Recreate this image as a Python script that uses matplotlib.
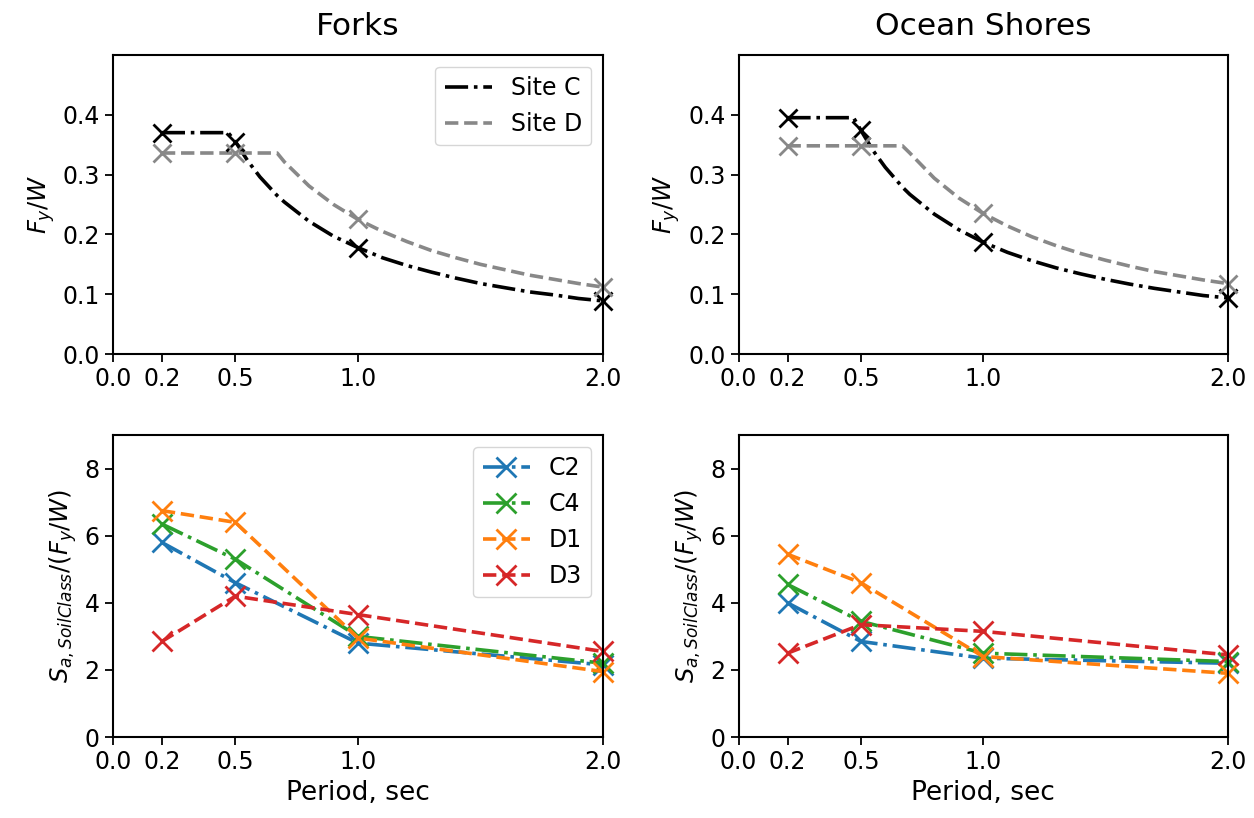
import matplotlib
matplotlib.use("Agg")
import matplotlib.pyplot as plt

# ---------------- data ----------------
sites = ["Forks", "Ocean Shores"]

# design spectrum curves (top row)
curve_period = [0.2, 0.3, 0.4, 0.47, 0.5, 0.55, 0.6, 0.67, 0.7, 0.8, 0.9, 1.0,
                1.1, 1.2, 1.3, 1.4, 1.5, 1.6, 1.7, 1.8, 1.9, 2.0]
forks_site_c = [0.370, 0.370, 0.370, 0.370, 0.355, 0.323, 0.296, 0.265, 0.254, 0.222, 0.197, 0.178,
                0.161, 0.148, 0.137, 0.127, 0.118, 0.111, 0.104, 0.099, 0.093, 0.089]
forks_site_d = [0.336, 0.336, 0.336, 0.336, 0.336, 0.336, 0.336, 0.336, 0.321, 0.281, 0.250, 0.225,
                0.205, 0.188, 0.173, 0.161, 0.150, 0.141, 0.132, 0.125, 0.118, 0.112]
ocean_site_c = [0.395, 0.395, 0.395, 0.395, 0.374, 0.340, 0.312, 0.279, 0.267, 0.234, 0.208, 0.187,
                0.170, 0.156, 0.144, 0.134, 0.125, 0.117, 0.110, 0.104, 0.098, 0.094]
ocean_site_d = [0.348, 0.348, 0.348, 0.348, 0.348, 0.348, 0.348, 0.348, 0.336, 0.294, 0.261, 0.235,
                0.214, 0.196, 0.181, 0.168, 0.157, 0.147, 0.138, 0.131, 0.124, 0.118]

# building periods (markers)
periods = [0.2, 0.5, 1.0, 2.0]
forks_mark_c = [0.370, 0.355, 0.178, 0.089]
forks_mark_d = [0.336, 0.336, 0.225, 0.112]
ocean_mark_c = [0.395, 0.374, 0.187, 0.094]
ocean_mark_d = [0.348, 0.348, 0.235, 0.118]

# bottom row: Sa / (Fy/W)
archetypes = ["C2", "C4", "D1", "D3"]
forks_ratio = {
    "C2": [5.80, 4.60, 2.80, 2.15],
    "C4": [6.35, 5.30, 3.00, 2.20],
    "D1": [6.75, 6.40, 2.95, 1.95],
    "D3": [2.85, 4.20, 3.65, 2.55],
}
ocean_ratio = {
    "C2": [4.00, 2.85, 2.35, 2.20],
    "C4": [4.55, 3.45, 2.50, 2.25],
    "D1": [5.45, 4.60, 2.40, 1.90],
    "D3": [2.50, 3.35, 3.15, 2.45],
}

xticks = [0.0, 0.2, 0.5, 1.0, 2.0]
xticklabels = ["0.0", "0.2", "0.5", "1.0", "2.0"]

# ---------------- plot ----------------
TICK = 17
YLABEL = 17.5
XLABEL = 19
TITLE = 22.5
LEG = 17
LW = 2.6

fig = plt.figure(figsize=(12.54, 8.18), dpi=100)
pos = {
    (0, 0): [0.090, 0.567, 0.391, 0.366],
    (0, 1): [0.589, 0.567, 0.390, 0.366],
    (1, 0): [0.090, 0.099, 0.391, 0.369],
    (1, 1): [0.589, 0.099, 0.390, 0.369],
}
axes = {k: fig.add_axes(v) for k, v in pos.items()}

top_curves = [(forks_site_c, forks_site_d, forks_mark_c, forks_mark_d),
              (ocean_site_c, ocean_site_d, ocean_mark_c, ocean_mark_d)]
bottom_data = [forks_ratio, ocean_ratio]

line_c = dict(color="black", linestyle="-.", linewidth=LW)
line_d = dict(color="#888888", linestyle="--", linewidth=LW)

for j, site in enumerate(sites):
    ax = axes[(0, j)]
    cc, cd, mc, md = top_curves[j]
    ax.plot(curve_period, cc, label="Site C", **line_c)
    ax.plot(curve_period, cd, label="Site D", **line_d)
    ax.plot(periods, mc, linestyle="none", marker="x", markersize=13, mew=2.0, color="black", clip_on=False)
    ax.plot(periods, md, linestyle="none", marker="x", markersize=13, mew=2.0, color="#888888", clip_on=False)
    ax.set_xlim(0, 2.0)
    ax.set_ylim(0, 0.5)
    ax.set_yticks([0.0, 0.1, 0.2, 0.3, 0.4])
    ax.set_ylabel(r"$F_y/W$", fontsize=YLABEL)
    ax.set_title(site, fontsize=TITLE, pad=14)
    if j == 0:
        ax.legend(loc="upper right", fontsize=LEG, handlelength=2.0)

colors = {"C2": "#1f77b4", "C4": "#2ca02c", "D1": "#ff7f0e", "D3": "#d62728"}
styles = {"C2": "-.", "C4": "-.", "D1": "--", "D3": "--"}

for j, site in enumerate(sites):
    ax = axes[(1, j)]
    data = bottom_data[j]
    for a in archetypes:
        ax.plot(periods, data[a], color=colors[a], linestyle=styles[a], linewidth=LW,
                marker="x", markersize=15, mew=2.0, label=a, clip_on=False)
    ax.set_xlim(0, 2.0)
    ax.set_ylim(0, 9)
    ax.set_yticks([0, 2, 4, 6, 8])
    ax.set_ylabel(r"$S_{a,SoilClass}/(F_y/W)$", fontsize=YLABEL)
    ax.set_xlabel("Period, sec", fontsize=XLABEL)
    if j == 0:
        ax.legend(loc="upper right", fontsize=LEG, handlelength=2.0)

for ax in axes.values():
    ax.set_xticks(xticks)
    ax.set_xticklabels(xticklabels)
    ax.tick_params(labelsize=TICK, width=1.3, length=6)
    for s in ax.spines.values():
        s.set_linewidth(1.5)

fig.savefig("out.png", dpi=100)
